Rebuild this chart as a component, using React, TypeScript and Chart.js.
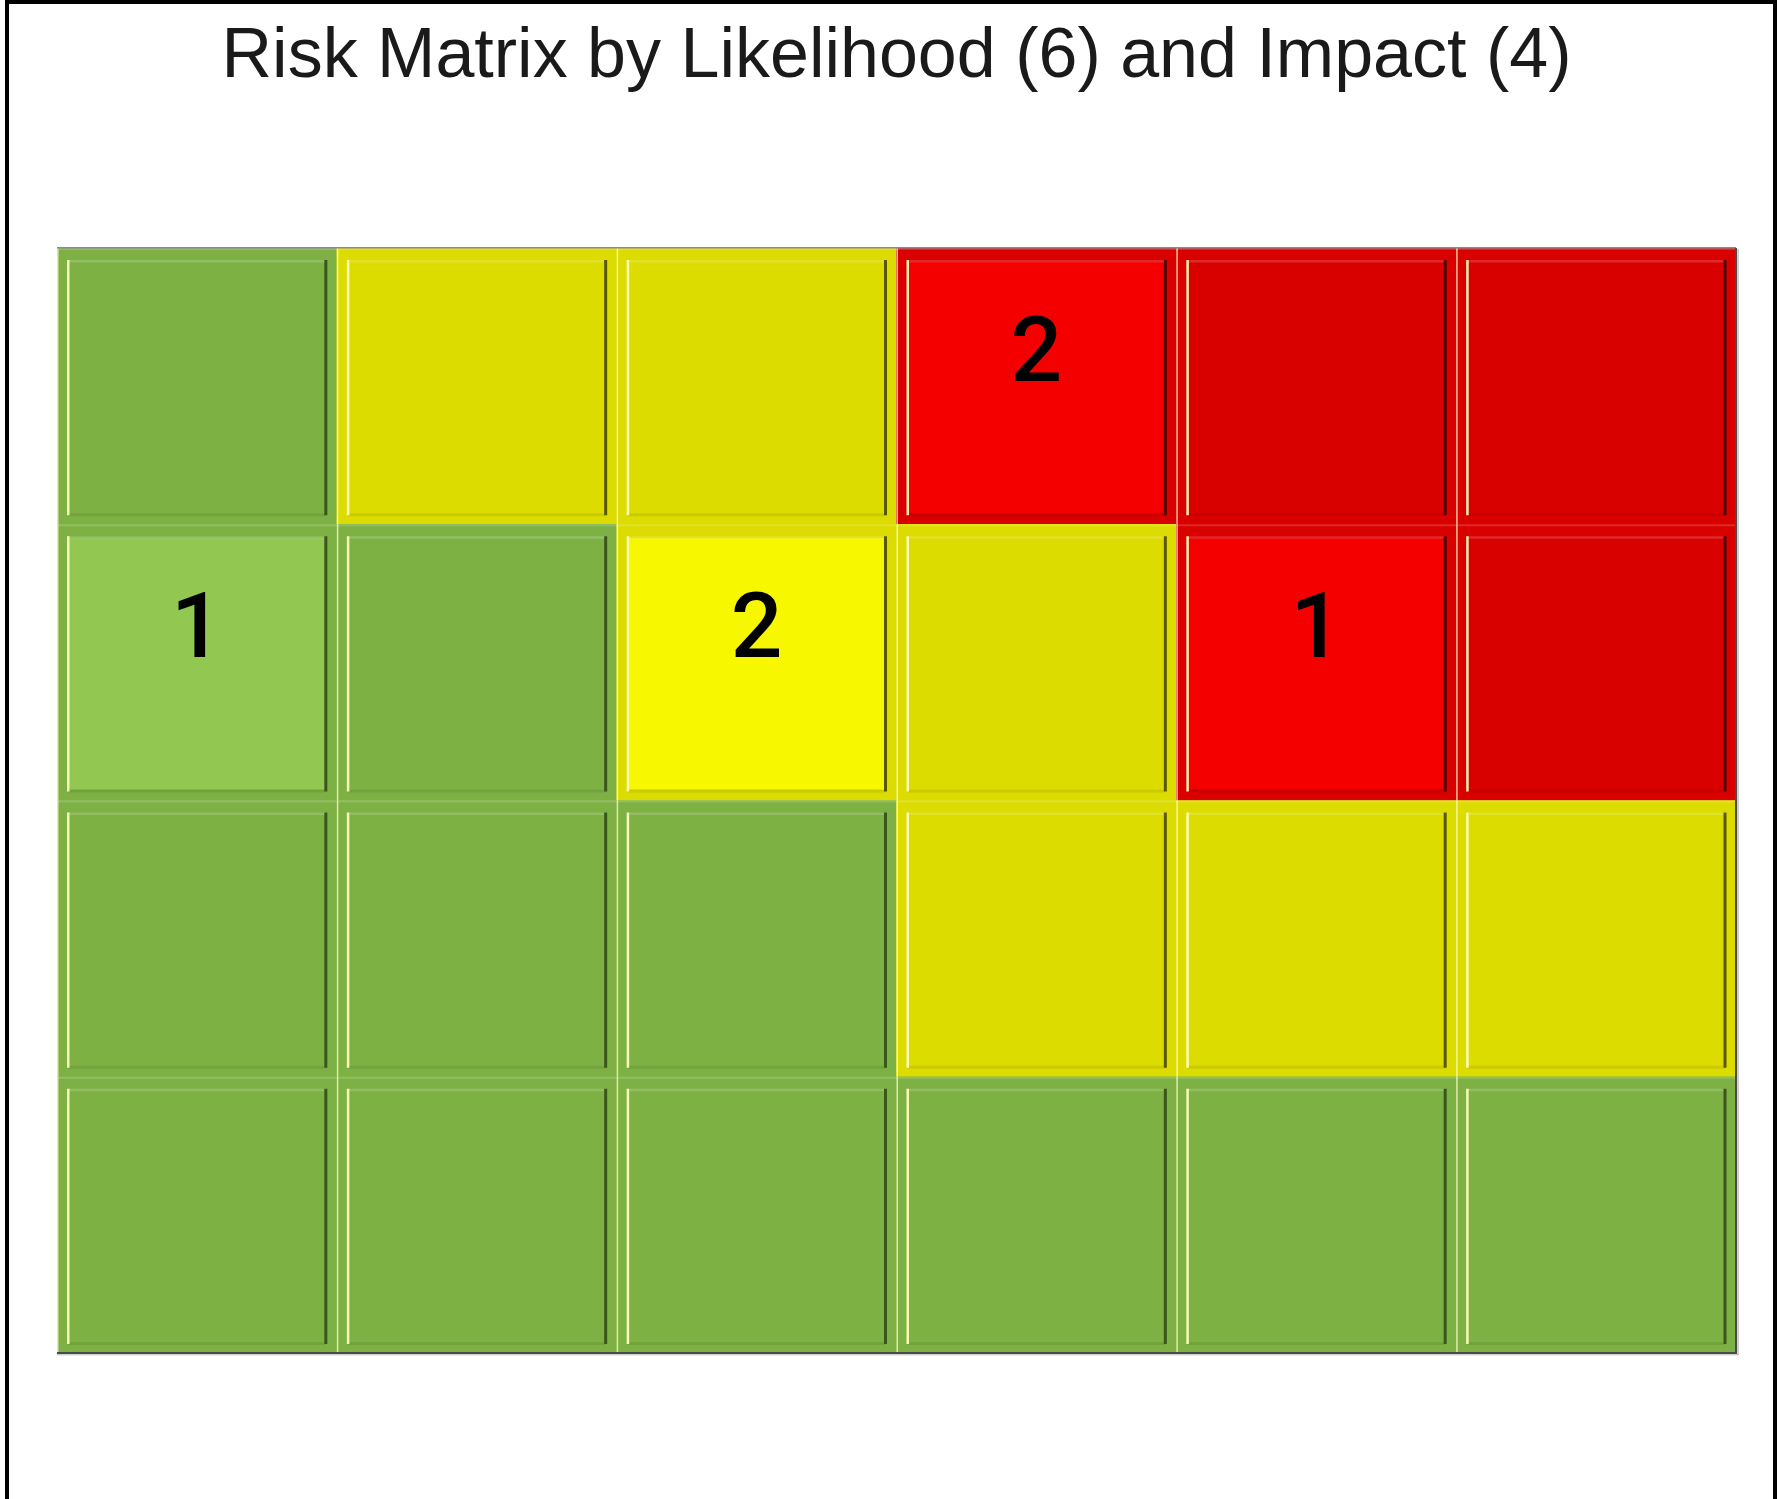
import React, { useEffect, useRef } from "react";
import { Chart, registerables } from "chart.js";

Chart.register(...registerables);

const TITLE = "Risk Matrix by Likelihood (6) and Impact (4)";
const LIKELIHOOD = ["1", "2", "3", "4", "5", "6"];
const IMPACT = ["1", "2", "3", "4"];

// risk zone of each cell, one list per impact level (bottom row first)
const ZONE_I1 = ["G", "G", "G", "G", "G", "G"];
const ZONE_I2 = ["G", "G", "G", "Y", "Y", "Y"];
const ZONE_I3 = ["G", "G", "Y", "Y", "R", "R"];
const ZONE_I4 = ["G", "Y", "Y", "R", "R", "R"];

// number of risks in each cell
const COUNT_I1 = [0, 0, 0, 0, 0, 0];
const COUNT_I2 = [0, 0, 0, 0, 0, 0];
const COUNT_I3 = [1, 0, 2, 0, 1, 0];
const COUNT_I4 = [0, 0, 0, 2, 0, 0];

// each cell spans one impact unit
const CELL_SPAN = [1, 1, 1, 1, 1, 1];

const ZONES = [ZONE_I1, ZONE_I2, ZONE_I3, ZONE_I4];
const COUNTS = [COUNT_I1, COUNT_I2, COUNT_I3, COUNT_I4];

const BASE: Record<string, string> = { G: "#7EB144", Y: "#DCDC00", R: "#D90000" };
const HIGHLIGHT: Record<string, string> = { G: "#92C851", Y: "#F7F700", R: "#F40000" };
const SHADOW: Record<string, string> = { G: "#3A561D", Y: "#585800", R: "#500000" };

const bevelPlugin = {
  id: "bevel",
  afterDatasetsDraw(chart: any) {
    const ctx = chart.ctx as CanvasRenderingContext2D;
    ctx.save();
    chart.data.datasets.forEach((ds: any, di: number) => {
      const meta = chart.getDatasetMeta(di);
      meta.data.forEach((el: any, i: number) => {
        const { x, y, base, width } = el.getProps(["x", "y", "base", "width"], true);
        const L = x - width / 2;
        const R = x + width / 2;
        const T = Math.min(y, base);
        const B = Math.max(y, base);
        const zone = ds.zones[i];
        const count = ds.counts[i];
        const iL = L + 11;
        const iR = R - 11;
        const iT = T + 14;
        const iB = B - 11;
        if (count > 0) {
          ctx.fillStyle = HIGHLIGHT[zone];
          ctx.fillRect(iL, iT, iR - iL, iB - iT);
        }
        // cell top boundary (light)
        ctx.fillStyle = "rgba(255,255,255,0.16)";
        ctx.fillRect(L, T, R - L, 2);
        // cell left boundary (pale)
        ctx.fillStyle = "rgba(255,255,200,0.75)";
        ctx.fillRect(L, T, 1.5, B - T);
        // inner top light line
        ctx.fillStyle = "rgba(255,255,255,0.16)";
        ctx.fillRect(iL, iT - 2, iR - iL, 2.5);
        // inner bottom dark line
        ctx.fillStyle = "rgba(0,0,0,0.08)";
        ctx.fillRect(iL, iB, iR - iL, 3);
        // inner left highlight
        ctx.fillStyle = "rgba(255,255,190,0.95)";
        ctx.fillRect(iL - 1, iT - 2, 2.5, iB - iT + 4);
        // inner right shadow
        ctx.fillStyle = SHADOW[zone];
        ctx.fillRect(iR - 1.5, iT - 2, 3, iB - iT + 4);
        if (count > 0) {
          ctx.fillStyle = "#000";
          ctx.font = '500 91px Roboto, "Liberation Sans", Arial, sans-serif';
          ctx.textAlign = "center";
          ctx.textBaseline = "alphabetic";
          ctx.fillText(String(count), x, (T + B) / 2 - 5);
        }
      });
    });
    const a = chart.chartArea;
    ctx.fillStyle = "#8A8A8A";
    ctx.fillRect(a.left, a.top - 1, a.right - a.left, 1.5);
    ctx.fillStyle = "#4A4A4A";
    ctx.fillRect(a.left, a.bottom - 1, a.right - a.left + 1, 2);
    ctx.fillRect(a.right - 1, a.top, 2, a.bottom - a.top);
    ctx.fillStyle = "rgba(0,0,0,0.18)";
    ctx.fillRect(a.right + 1, a.top + 1, 2, a.bottom - a.top + 1);
    ctx.fillRect(a.left, a.bottom + 1, a.right - a.left + 2, 1.5);
    ctx.restore();
  },
};

export default function App() {
  const ref = useRef<HTMLCanvasElement>(null);

  useEffect(() => {
    if (!ref.current) return;
    const datasets = IMPACT.map((imp, r) => ({
      label: "Impact " + imp,
      data: CELL_SPAN,
      zones: ZONES[r],
      counts: COUNTS[r],
      backgroundColor: ZONES[r].map((z) => BASE[z]),
      borderWidth: 0,
      barPercentage: 1,
      categoryPercentage: 1,
    }));
    const chart = new Chart(ref.current, {
      type: "bar",
      data: { labels: LIKELIHOOD, datasets: datasets as any },
      options: {
        animation: false,
        responsive: false,
        devicePixelRatio: 1,
        layout: { padding: { left: 48, right: 37, top: 0, bottom: 183 } },
        plugins: {
          legend: { display: false },
          tooltip: { enabled: false },
          title: {
            display: true,
            text: TITLE,
            color: "#1a1a1a",
            font: { family: '"Liberation Sans", Arial, sans-serif', size: 70, weight: "normal", lineHeight: 1.2 },
            padding: { top: 12, bottom: 148 },
          },
        },
        scales: {
          x: { display: false, stacked: true, offset: true, grid: { display: false } },
          y: { display: false, stacked: true, min: 0, max: 4, grid: { display: false } },
        },
      },
      plugins: [bevelPlugin],
    });
    return () => chart.destroy();
  }, []);

  return (
    <div
      style={{
        position: "fixed",
        left: 5,
        top: 0,
        width: 1772,
        height: 1540,
        border: "4px solid #000",
        boxSizing: "border-box",
        background: "#fff",
      }}
    >
      <canvas ref={ref} width={1764} height={1532} style={{ display: "block", width: 1764, height: 1532 }} />
    </div>
  );
}
